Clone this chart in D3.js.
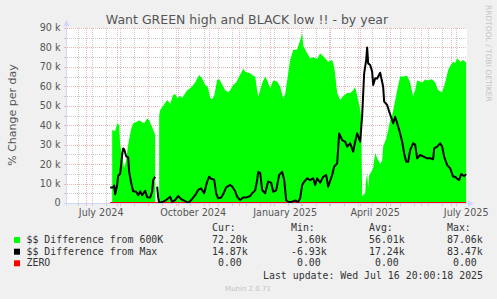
<!DOCTYPE html>
<html>
<head>
<meta charset="utf-8">
<title>Want GREEN high and BLACK low !! - by year</title>
<script src="https://cdnjs.cloudflare.com/ajax/libs/d3/7.8.5/d3.min.js"></script>
<style>
    body { margin: 0; background: #f0f0f0; }
    svg text { font-family: "DejaVu Sans", sans-serif; }
    svg text.mono { font-family: "DejaVu Sans Mono", monospace; white-space: pre; }
</style>
</head>
<body>
<svg id="chart" width="497" height="299"></svg>
<script>
const title = "Want GREEN high and BLACK low !! - by year";
const yLabel = "% Change per day";
const lastUpdate = "Last update: Wed Jul 16 20:00:18 2025";

const yTicks = [0, 10000, 20000, 30000, 40000, 50000, 60000, 70000, 80000, 90000];

const greenDates = [
    "2024-07-27", "2024-07-30", "2024-08-01", "2024-08-03", "2024-08-04", "2024-08-08", "2024-08-10",
    "2024-08-12", "2024-08-15", "2024-08-17", "2024-08-20", "2024-08-23", "2024-08-26", "2024-08-28",
    "2024-08-31", "2024-09-02", "2024-09-05", "2024-09-08", "2024-09-09", "2024-09-12", "2024-09-13",
    "2024-09-16", "2024-09-20", "2024-09-23", "2024-09-26", "2024-09-28", "2024-09-30", "2024-10-03",
    "2024-10-05", "2024-10-08", "2024-10-10", "2024-10-13", "2024-10-15", "2024-10-18", "2024-10-20",
    "2024-10-22", "2024-10-25", "2024-10-28", "2024-10-30", "2024-10-31", "2024-11-02", "2024-11-04",
    "2024-11-06", "2024-11-09", "2024-11-11", "2024-11-14", "2024-11-17", "2024-11-20", "2024-11-22",
    "2024-11-25", "2024-11-28", "2024-11-30", "2024-12-03", "2024-12-05", "2024-12-07", "2024-12-10",
    "2024-12-12", "2024-12-15", "2024-12-17", "2024-12-19", "2024-12-20", "2024-12-22", "2024-12-24",
    "2024-12-27", "2024-12-29", "2025-01-01", "2025-01-04", "2025-01-08", "2025-01-11", "2025-01-14",
    "2025-01-16", "2025-01-18", "2025-01-21", "2025-01-24", "2025-01-28", "2025-01-31", "2025-02-02",
    "2025-02-03", "2025-02-05", "2025-02-07", "2025-02-10", "2025-02-13", "2025-02-17", "2025-02-20",
    "2025-02-22", "2025-02-25", "2025-02-28", "2025-03-04", "2025-03-06", "2025-03-07", "2025-03-09",
    "2025-03-12", "2025-03-15", "2025-03-19", "2025-03-22", "2025-03-25", "2025-03-27", "2025-03-30",
    "2025-04-01", "2025-04-02", "2025-04-03", "2025-04-06", "2025-04-07", "2025-04-08", "2025-04-09",
    "2025-04-10", "2025-04-12", "2025-04-14", "2025-04-16", "2025-04-18", "2025-04-21", "2025-04-23",
    "2025-04-24", "2025-04-27", "2025-04-29", "2025-05-01", "2025-05-03", "2025-05-05", "2025-05-08",
    "2025-05-11", "2025-05-14", "2025-05-18", "2025-05-21", "2025-05-23", "2025-05-24", "2025-05-26",
    "2025-05-28", "2025-05-31", "2025-06-02", "2025-06-05", "2025-06-07", "2025-06-10", "2025-06-12",
    "2025-06-15", "2025-06-18", "2025-06-20", "2025-06-22", "2025-06-25", "2025-06-28", "2025-06-30",
    "2025-07-03", "2025-07-05", "2025-07-07", "2025-07-10", "2025-07-13", "2025-07-16"
];
const greenValues = [
    37500, 37000, 41000, 40000, 30000, 18000, 22000,
    30000, 38000, 41000, 41500, 42500, 41500, 41000,
    43500, 42500, 39000, 35000, null, 45000, 47800,
    50000, 53000, 51000, 55500, 56000, 54000, 55000,
    54000, 56500, 58000, 59000, 60000, 62000, 64000,
    65800, 64000, 60700, 60000, 59000, 54000, 53500,
    55000, 63300, 63800, 61000, 58000, 57000, 58000,
    60700, 62000, 64000, 67000, 69000, 67500, 67000,
    66700, 65500, 65000, 58000, 54700, 58000, 61700,
    65000, 63000, 59000, 63000, 62500, 59800, 54000,
    56000, 63000, 73500, 78700, 79000, 83800, 87000,
    81000, 79000, 77000, 74400, 75000, 74000, 77000,
    76000, 74400, 72700, 73500, 70000, 65800, 56600,
    53000, 55000, 56600, 56600, 58000, 59700, 53000,
    48000, 43700, 3600, 5000, 12000, 15000, 8000,
    14000, 16000, 18000, 25700, 23000, 20000, 22000,
    29000, 33000, 37500, 42700, 45000, 50000, 58000,
    65000, 65000, 65500, 62000, 57000, 55000, 58000,
    63000, 62500, 62000, 63500, 63000, 63500, 63500,
    62000, 58000, 57500, 57000, 62000, 68400, 70500,
    72700, 72000, 74400, 72700, 73500, 72200
];

const blackDates = [
    "2024-07-25", "2024-07-28", "2024-07-29", "2024-07-30", "2024-08-01", "2024-08-02", "2024-08-04",
    "2024-08-06", "2024-08-07", "2024-08-08", "2024-08-10", "2024-08-12", "2024-08-13", "2024-08-15",
    "2024-08-17", "2024-08-20", "2024-08-22", "2024-08-24", "2024-08-26", "2024-08-29", "2024-08-31",
    "2024-09-03", "2024-09-05", "2024-09-06", "2024-09-08", "2024-09-09", "2024-09-10", "2024-09-11",
    "2024-09-12", "2024-09-16", "2024-09-19", "2024-09-23", "2024-09-25", "2024-09-28", "2024-10-01",
    "2024-10-04", "2024-10-08", "2024-10-11", "2024-10-14", "2024-10-18", "2024-10-21", "2024-10-24",
    "2024-10-27", "2024-10-30", "2024-11-01", "2024-11-03", "2024-11-06", "2024-11-08", "2024-11-10",
    "2024-11-13", "2024-11-15", "2024-11-18", "2024-11-22", "2024-11-24", "2024-11-27", "2024-11-29",
    "2024-12-02", "2024-12-05", "2024-12-09", "2024-12-12", "2024-12-14", "2024-12-17", "2024-12-19",
    "2024-12-20", "2024-12-22", "2024-12-24", "2024-12-27", "2024-12-30", "2025-01-02", "2025-01-04",
    "2025-01-07", "2025-01-10", "2025-01-13", "2025-01-15", "2025-01-17", "2025-01-19", "2025-01-23",
    "2025-01-26", "2025-01-29", "2025-01-31", "2025-02-02", "2025-02-04", "2025-02-07", "2025-02-10",
    "2025-02-13", "2025-02-15", "2025-02-17", "2025-02-20", "2025-02-23", "2025-02-26", "2025-02-28",
    "2025-03-04", "2025-03-06", "2025-03-09", "2025-03-11", "2025-03-14", "2025-03-17", "2025-03-19",
    "2025-03-22", "2025-03-25", "2025-03-27", "2025-03-29", "2025-04-01", "2025-04-03", "2025-04-05",
    "2025-04-07", "2025-04-08", "2025-04-09", "2025-04-11", "2025-04-13", "2025-04-14", "2025-04-16",
    "2025-04-18", "2025-04-21", "2025-04-24", "2025-04-25", "2025-04-28", "2025-04-30", "2025-05-03",
    "2025-05-04", "2025-05-06", "2025-05-08", "2025-05-10", "2025-05-13", "2025-05-15", "2025-05-17",
    "2025-05-19", "2025-05-21", "2025-05-24", "2025-05-26", "2025-05-28", "2025-05-31", "2025-06-03",
    "2025-06-07", "2025-06-10", "2025-06-13", "2025-06-14", "2025-06-17", "2025-06-20", "2025-06-22",
    "2025-06-24", "2025-06-27", "2025-06-30", "2025-07-03", "2025-07-05", "2025-07-07", "2025-07-09",
    "2025-07-11", "2025-07-14", "2025-07-16"
];
const blackValues = [
    8000, 8000, 9000, 4500, 9300, 14000, 15000,
    25000, 28000, 27600, 24000, 23500, 16000, 10300,
    6000, 5800, 4000, 6000, 4000, 6300, 3000,
    2800, 6000, 11800, 13500, null, 8400, 3000,
    0, 700, 1500, 3200, 500, 1500, 3600,
    2000, 1000, 0, 1500, 4000, 6700, 7500,
    5000, 11000, 13500, 12500, 12000, 5000, 2400,
    2800, 4500, 8000, 9300, 8500, 6000, 3200,
    1500, 2800, 3000, 3600, 5000, 6500, 11800,
    16000, 15500, 6700, 5000, 11000, 10500, 5800,
    6500, 14400, 16000, 12000, 1500, 500, 700,
    1300, 500, 2500, 9300, 11000, 12700, 11800,
    12700, 9300, 12700, 10500, 13500, 14400, 8400,
    14400, 18700, 20400, 35800, 32400, 31500, 29000,
    30700, 26400, 31500, 35800, 31500, 45000, 66700,
    73500, 80000, 71800, 71000, 67500, 60700, 64100,
    64000, 67000, 59800, 52100, 50400, 47000, 42700,
    41000, 44400, 41000, 37500, 31500, 25500, 21200,
    21200, 27300, 30700, 30000, 23000, 24700, 24000,
    23000, 23000, 22500, 28100, 29000, 30700, 29000,
    23800, 19500, 17800, 13500, 13500, 12500, 11800,
    14900, 13800, 14870
];

const legendNames = ["$$ Difference from 600K", "$$ Difference from Max", "ZERO"];
const legendColors = ["#00ff00", "#000000", "#ff0000"];
const statHeads = ["Cur:", "Min:", "Avg:", "Max:"];
const curValues = ["72.20k", "14.87k", " 0.00"];
const minValues = [" 3.60k", "-6.93k", " 0.00"];
const avgValues = ["56.01k", "17.24k", " 0.00"];
const maxValues = ["87.06k", "83.47k", " 0.00"];

const svg = d3.select("#chart");
const W = 497, H = 299;
const plotL = 67, plotR = 467, plotT = 28, plotB = 203;

svg.append("rect").attr("width", W).attr("height", H).attr("fill", "#f0f0f0");
svg.append("rect").attr("x", plotL).attr("y", plotT)
    .attr("width", plotR - plotL).attr("height", plotB - plotT).attr("fill", "#ffffff");

const parse = d3.timeParse("%Y-%m-%d");
const end = new Date(2025, 6, 16, 20, 0, 18);
const start = d3.timeDay.offset(end, -400);

const x = d3.scaleTime().domain([start, end]).range([plotL, plotR]);
const y = d3.scaleLinear().domain([0, 90000]).range([plotB, plotT]);

const green = greenDates.map((d, i) => ({ date: parse(d), value: greenValues[i] }));
const black = blackDates.map((d, i) => ({ date: parse(d), value: blackValues[i] }));

// grid positions
const majorX = d3.timeMonth.range(start, end);
const minorX = d3.timeDay.range(new Date(2024, 5, 23), end, 14)
    .filter(d => !majorX.some(m => Math.abs(m - d) < 864e5));
const labelMonths = d3.timeMonth.every(3).range(start, end);
const minorY = d3.range(5000, 90000, 10000);

const px = v => Math.round(v) + 0.5;

const minorColor = "#cacaca";
const majorColor = "#efb4b4";

// grid (drawn under the data)
const gridMinor = svg.append("g").attr("stroke", minorColor).attr("stroke-dasharray", "1,1");
gridMinor.selectAll(".mx").data(minorX).enter().append("line")
    .attr("x1", d => px(x(d))).attr("x2", d => px(x(d)))
    .attr("y1", plotT).attr("y2", plotB);
gridMinor.selectAll(".my").data(minorY).enter().append("line")
    .attr("x1", plotL).attr("x2", plotR)
    .attr("y1", d => px(y(d))).attr("y2", d => px(y(d)));

const gridMajor = svg.append("g").attr("stroke", majorColor).attr("stroke-dasharray", "1,1");
gridMajor.selectAll(".Mx").data(majorX).enter().append("line")
    .attr("x1", d => px(x(d))).attr("x2", d => px(x(d)))
    .attr("y1", plotT).attr("y2", plotB);
gridMajor.selectAll(".My").data(yTicks.slice(1)).enter().append("line")
    .attr("x1", plotL).attr("x2", plotR)
    .attr("y1", d => px(y(d))).attr("y2", d => px(y(d)));

svg.append("clipPath").attr("id", "plot")
    .append("rect").attr("x", plotL).attr("y", plotT).attr("width", plotR - plotL).attr("height", plotB - plotT + 1);

const plot = svg.append("g").attr("clip-path", "url(#plot)");

const area = d3.area()
    .defined(d => d.value !== null)
    .x(d => x(d.date))
    .y0(y(0))
    .y1(d => y(d.value));

plot.append("path").datum(green).attr("d", area).attr("fill", "#00ff00");

// ZERO line
const zeroLine = d3.line().x(d => x(d.date)).y(() => y(0) - 0.5);
plot.append("path").datum([black[0], black[black.length - 1]]).attr("d", zeroLine)
    .attr("fill", "none").attr("stroke", "#ff0000").attr("stroke-width", 1);

const line = d3.line()
    .defined(d => d.value !== null)
    .x(d => x(d.date))
    .y(d => y(d.value));

plot.append("path").datum(black).attr("d", line)
    .attr("fill", "none").attr("stroke", "#000").attr("stroke-width", 2)
    .attr("stroke-linejoin", "round");

// axis ticks
svg.append("g").attr("stroke", minorColor).selectAll("line").data(minorX).enter().append("line")
    .attr("x1", d => px(x(d))).attr("x2", d => px(x(d))).attr("y1", plotB + 1).attr("y2", plotB + 3);
svg.append("g").attr("stroke", majorColor).selectAll("line").data(majorX).enter().append("line")
    .attr("x1", d => px(x(d))).attr("x2", d => px(x(d))).attr("y1", plotB + 1).attr("y2", plotB + 3);
svg.append("g").attr("stroke", majorColor).selectAll("line").data(yTicks).enter().append("line")
    .attr("x1", plotL - 3).attr("x2", plotL - 1).attr("y1", d => px(y(d))).attr("y2", d => px(y(d)));
svg.append("g").attr("stroke", minorColor).selectAll("line").data(minorY).enter().append("line")
    .attr("x1", plotL - 3).attr("x2", plotL - 1).attr("y1", d => px(y(d))).attr("y2", d => px(y(d)));

// axes with arrows
const axisColor = "#cfd6f8";
svg.append("line").attr("x1", plotL - 0.5).attr("x2", plotL - 0.5).attr("y1", plotB + 3).attr("y2", 24)
    .attr("stroke", axisColor);
svg.append("path").attr("d", `M${plotL - 3.5},26L${plotL + 2.5},26L${plotL - 0.5},20Z`).attr("fill", axisColor);
svg.append("line").attr("x1", plotL - 3).attr("x2", plotR + 3).attr("y1", plotB + 0.5).attr("y2", plotB + 0.5)
    .attr("stroke", axisColor);
svg.append("path").attr("d", `M${plotR + 1},${plotB - 2.5}L${plotR + 1},${plotB + 3.5}L${plotR + 7},${plotB + 0.5}Z`)
    .attr("fill", axisColor);

// tick labels
const textColor = "#555";
svg.append("g").selectAll("text").data(yTicks).enter().append("text")
    .attr("x", 60.5).attr("y", d => y(d)).attr("dy", "0.36em")
    .attr("text-anchor", "end").attr("font-size", 9.6).attr("fill", textColor)
    .text(d => d === 0 ? "0" : (d / 1000) + " k");

svg.append("g").selectAll("text").data(labelMonths).enter().append("text")
    .attr("x", d => x(d3.timeDay.offset(d, 15))).attr("y", 216)
    .attr("text-anchor", "middle").attr("font-size", 9.6).attr("fill", textColor)
    .text(d => d3.timeFormat("%B %Y")(d));

svg.append("text").attr("x", 247).attr("y", 23.5).attr("text-anchor", "middle")
    .attr("font-size", 12.5).attr("fill", textColor).text(title);

svg.append("text").attr("transform", "translate(15.5,115) rotate(-90)")
    .attr("text-anchor", "middle").attr("font-size", 11).attr("fill", textColor).text(yLabel);

svg.append("text").attr("transform", "translate(485.5,5) rotate(90)")
    .attr("font-size", 7.5).attr("fill", "#c4c4c4").text("RRDTOOL / TOBI OETIKER");

// legend
const cols = [212, 291, 369, 447];
const rowY = [243, 254.7, 266.3];
const legendText = "#333";

svg.append("g").selectAll("text").data(statHeads).enter().append("text")
    .attr("class", "mono").attr("x", (d, i) => cols[i]).attr("y", 231)
    .attr("font-size", 9.9).attr("fill", legendText).text(d => d);

legendNames.forEach((name, i) => {
    svg.append("rect").attr("x", 14).attr("y", rowY[i] - 6).attr("width", 6).attr("height", 6)
        .attr("fill", legendColors[i]);
    svg.append("text").attr("class", "mono").attr("x", 26.5).attr("y", rowY[i])
        .attr("font-size", 9.9).attr("fill", legendText).text(name);
    [curValues, minValues, avgValues, maxValues].forEach((vals, j) => {
        svg.append("text").attr("class", "mono").attr("x", cols[j]).attr("y", rowY[i])
            .attr("font-size", 9.9).attr("fill", legendText).text(vals[i]);
    });
});

svg.append("text").attr("class", "mono").attr("x", 483).attr("y", 279)
    .attr("text-anchor", "end").attr("font-size", 9.9).attr("fill", legendText).text(lastUpdate);

svg.append("text").attr("x", 248).attr("y", 291).attr("text-anchor", "middle")
    .attr("font-size", 7).attr("fill", "#c4c4c4").text("Munin 2.0.71");
</script>
</body>
</html>
